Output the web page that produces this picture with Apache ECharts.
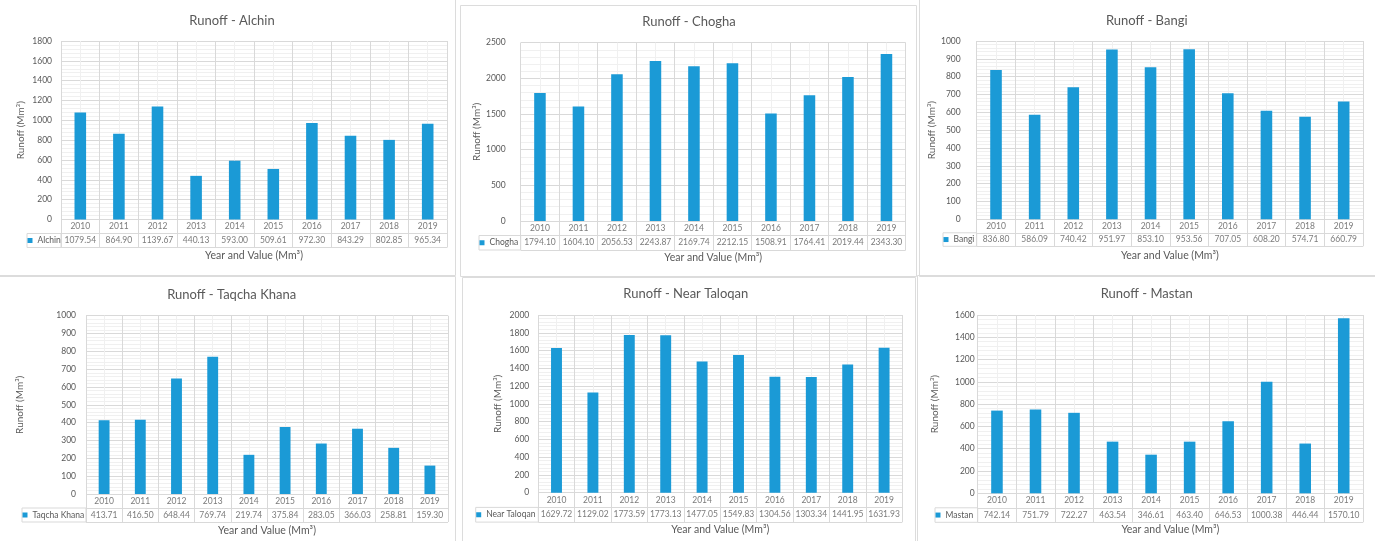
<!DOCTYPE html>
<html>
<head>
<meta charset="utf-8">
<script src="https://cdn.jsdelivr.net/npm/echarts@6/dist/echarts.min.js"></script>
<style>
  html, body { margin: 0; padding: 0; background: #ffffff; }
  #chart { width: 1375px; height: 541px; }
</style>
</head>
<body>
<div id="chart"></div>
<script>
// Annual runoff (Mm³) per gauging station, 2010–2019
const years = ['2010', '2011', '2012', '2013', '2014', '2015', '2016', '2017', '2018', '2019'];
const alchin = [1079.54, 864.90, 1139.67, 440.13, 593.00, 509.61, 972.30, 843.29, 802.85, 965.34];
const chogha = [1794.10, 1604.10, 2056.53, 2243.87, 2169.74, 2212.15, 1508.91, 1764.41, 2019.44, 2343.30];
const bangi = [836.80, 586.09, 740.42, 951.97, 853.10, 953.56, 707.05, 608.20, 574.71, 660.79];
const taqchaKhana = [413.71, 416.50, 648.44, 769.74, 219.74, 375.84, 283.05, 366.03, 258.81, 159.30];
const nearTaloqan = [1629.72, 1129.02, 1773.59, 1773.13, 1477.05, 1549.83, 1304.56, 1303.34, 1441.95, 1631.93];
const mastan = [742.14, 751.79, 722.27, 463.54, 346.61, 463.40, 646.53, 1000.38, 446.44, 1570.10];

const stations = ['Alchin', 'Chogha', 'Bangi', 'Taqcha Khana', 'Near Taloqan', 'Mastan'];
const stationValues = [alchin, chogha, bangi, taqchaKhana, nearTaloqan, mastan];
const axisMax = [1800, 2500, 1000, 1000, 2000, 1600];
const axisStep = [200, 500, 100, 100, 200, 200];

const yAxisTitle = 'Runoff (Mm³)';
const xAxisTitle = 'Year and Value (Mm³)';

// Panel geometry in pixels (plot box, table row height, key cell, titles, frame)
const panels = [
  { plotL: 61,    plotR: 447,  plotT: 41,    plotB: 219.5, rowH: 14,   keyL: 27,    lblGap: 9,  titleX: 232,   titleY: 20.5, yNameX: 19.5, xNameY: 256.5, frame: [-1, -1, 456, 276] },
  { plotL: 520.7, plotR: 905.7, plotT: 42.7, plotB: 221,   rowH: 14.5, keyL: 479,   lblGap: 15, titleX: 689,   titleY: 21.5, yNameX: 477.5, xNameY: 258,  frame: [460, 5, 456, 271] },
  { plotL: 976.7, plotR: 1363, plotT: 41,    plotB: 219.3, rowH: 13.5, keyL: 943,   lblGap: 16, titleX: 1146.7, titleY: 20.5, yNameX: 934, xNameY: 256.5, frame: [919, -1, 460, 277] },
  { plotL: 86,    plotR: 448,  plotT: 315.7, plotB: 494,   rowH: 14,   keyL: 22,    lblGap: 10, titleX: 231.7, titleY: 295,  yNameX: 19.2, xNameY: 531.5, frame: [-1, 276, 456, 270] },
  { plotL: 538.3, plotR: 902.3, plotT: 315,  plotB: 492.7, rowH: 14.7, keyL: 475.7, lblGap: 9,  titleX: 685.8, titleY: 294.3, yNameX: 497, xNameY: 530,  frame: [462, 277, 453, 270] },
  { plotL: 977.7, plotR: 1363, plotT: 315,   plotB: 493.3, rowH: 14.5, keyL: 935,   lblGap: 3,  titleX: 1146.7, titleY: 294.3, yNameX: 934, xNameY: 530,  frame: [917, 275, 460, 270] }
];

const FONT = 'Lato, "Open Sans", sans-serif';
const TEXT = '#595959';
const MAJOR = '#d9d9d9';
const MINOR = '#f0f0f0';
const BAR = '#1b9ad6';

const grid = [], xAxis = [], yAxis = [], series = [], legend = [], graphic = [];

stations.forEach((name, i) => {
  const p = panels[i];
  const values = stationValues[i];
  const w = p.plotR - p.plotL;
  const plotGrid = grid.length;
  const tableGrid = plotGrid + 1;

  grid.push({ left: p.plotL, top: p.plotT, width: w, height: p.plotB - p.plotT, containLabel: false });
  grid.push({ left: p.plotL, top: p.plotB, width: w, height: 2 * p.rowH, containLabel: false });

  // plot: category axis for the bars
  const catIdx = xAxis.length;
  xAxis.push({
    type: 'category', gridIndex: plotGrid, data: years,
    axisLine: { show: false }, axisTick: { show: false }, axisLabel: { show: false }, splitLine: { show: false }
  });
  // plot: vertical gridlines (major at year boundaries, minor at mid-year)
  xAxis.push({
    type: 'value', gridIndex: plotGrid, min: 0, max: years.length, interval: 1, z: 0,
    axisLine: { show: false }, axisTick: { show: false }, axisLabel: { show: false },
    splitLine: { show: true, lineStyle: { color: MAJOR, width: 1 } },
    minorTick: { show: false, splitNumber: 2 },
    minorSplitLine: { show: true, lineStyle: { color: MINOR, width: 1 } }
  });
  // table: year columns
  const tabXIdx = xAxis.length;
  xAxis.push({
    type: 'category', gridIndex: tableGrid, data: years,
    axisLine: { show: false }, axisTick: { show: false }, axisLabel: { show: false },
    splitLine: { show: true, interval: 0, lineStyle: { color: MAJOR, width: 1 } },
    name: xAxisTitle, nameLocation: 'middle', nameGap: p.xNameY - (p.plotB + 2 * p.rowH) - 6.3,
    nameTextStyle: { fontFamily: FONT, fontSize: 10.5, color: TEXT }
  });

  const valIdx = yAxis.length;
  yAxis.push({
    type: 'value', gridIndex: plotGrid, min: 0, max: axisMax[i], interval: axisStep[i],
    axisLine: { show: false }, axisTick: { show: false },
    axisLabel: { fontFamily: FONT, fontSize: 8.5, color: TEXT, margin: p.lblGap, formatter: v => String(v) },
    splitLine: { show: true, lineStyle: { color: MAJOR, width: 1 } },
    minorTick: { show: false, splitNumber: 5 },
    minorSplitLine: { show: true, lineStyle: { color: MINOR, width: 1 } },
    name: yAxisTitle, nameLocation: 'middle', nameGap: p.plotL - p.yNameX - 6,
    nameTextStyle: { fontFamily: FONT, fontSize: 10, color: TEXT }
  });
  const tabYIdx = yAxis.length;
  yAxis.push({
    type: 'category', gridIndex: tableGrid, data: ['value', 'year'],
    axisLine: { show: false }, axisTick: { show: false }, axisLabel: { show: false },
    splitLine: { show: true, interval: 0, lineStyle: { color: MAJOR, width: 1 } }
  });

  series.push({
    type: 'bar', name: name, xAxisIndex: catIdx, yAxisIndex: valIdx,
    data: values, barWidth: '30%', itemStyle: { color: BAR }, z: 3
  });

  // data table: year row and value row
  const cells = [];
  years.forEach((y, k) => {
    cells.push({ name: y, value: [y, 'year'] });
    cells.push({ name: values[k].toFixed(2), value: [y, 'value'] });
  });
  series.push({
    type: 'scatter', name: name + ' table', xAxisIndex: tabXIdx, yAxisIndex: tabYIdx,
    data: cells, symbolSize: 1, itemStyle: { color: 'rgba(0,0,0,0)' }, silent: true,
    label: { show: true, position: 'inside', formatter: '{b}', fontFamily: FONT, fontSize: 8.5, color: TEXT }
  });

  // series key in the value row of the table
  const keyTop = p.plotB + p.rowH;
  legend.push({
    data: [{ name: name, icon: 'rect' }], selectedMode: false,
    left: p.keyL + 0.5, top: keyTop + (p.rowH - 10) / 2, padding: 0,
    itemWidth: 5, itemHeight: 5, itemGap: 0,
    textStyle: { fontFamily: FONT, fontSize: 8.5, color: TEXT, lineHeight: 10 }
  });
  graphic.push({
    type: 'rect', silent: true, z: 1,
    shape: { x: p.keyL, y: keyTop, width: p.plotL - p.keyL, height: p.rowH },
    style: { fill: 'none', stroke: MAJOR, lineWidth: 1 }
  });

  // panel frame and title
  graphic.push({
    type: 'rect', silent: true, z: 0,
    shape: { x: p.frame[0] + 0.5, y: p.frame[1] + 0.5, width: p.frame[2], height: p.frame[3] },
    style: { fill: 'none', stroke: '#dcdcdc', lineWidth: 1 }
  });
  graphic.push({
    type: 'text', silent: true, z: 5, x: p.titleX, y: p.titleY,
    style: { text: 'Runoff - ' + name, fontFamily: FONT, fontSize: 13, fill: TEXT, align: 'center', verticalAlign: 'middle' }
  });
});

const chart = echarts.init(document.getElementById('chart'), null, { renderer: 'canvas' });
chart.setOption({
  animation: false,
  backgroundColor: '#ffffff',
  textStyle: { fontFamily: FONT },
  grid, xAxis, yAxis, series, legend, graphic
});
</script>
</body>
</html>
